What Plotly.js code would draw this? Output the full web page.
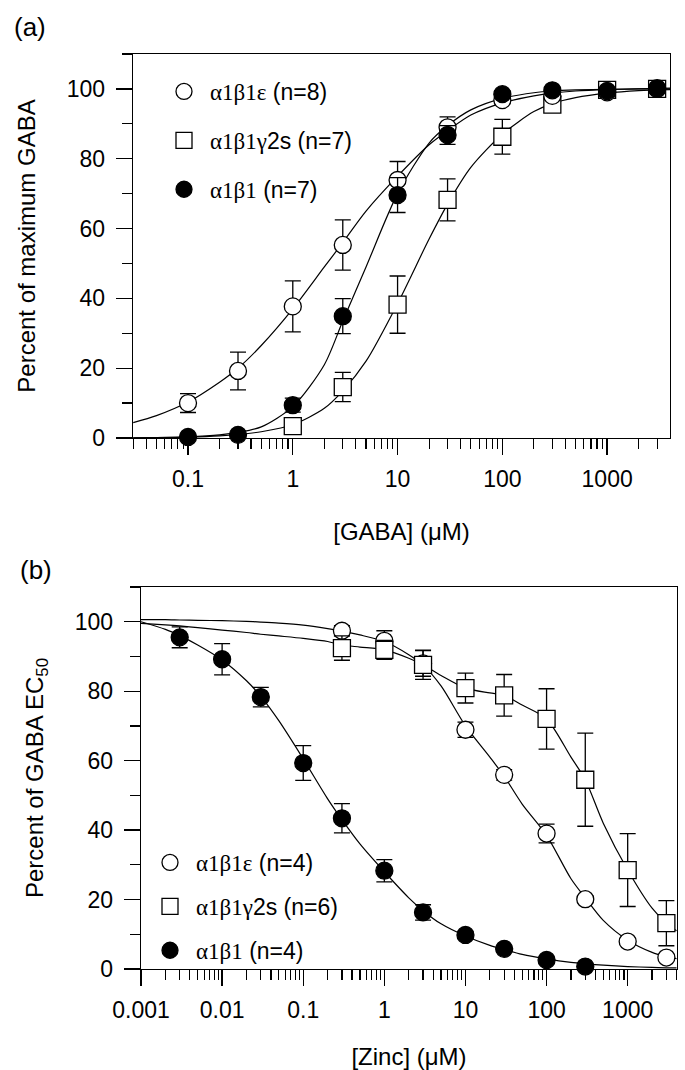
<!DOCTYPE html>
<html>
<head>
<meta charset="utf-8">
<script src="https://cdn.plot.ly/plotly-3.0.1.min.js"></script>
<style>html,body{margin:0;padding:0;background:#fff;}</style>
</head>
<body>
<div id="chart" style="width:685px;height:1070px;"></div>
<script>
// ---------- Panel (a): GABA concentration-response ----------
const gabaX = [0.1, 0.3, 1, 3, 10, 30, 100, 300, 1000, 3000];
const gabaEpsY = [10, 19.2, 37.7, 55.3, 73.9, 89, 96.8, 98, 99, 100];
const gabaEpsErr = [2.7, 5.4, 7.3, 7.2, 5.3, 3, 1, 0.8, 0.8, 0.5];
const gabaB1Y = [0.3, 0.9, 9.4, 34.9, 69.6, 86.8, 98.5, 99.6, 99.4, 100.2];
const gabaB1Err = [0.3, 0.5, 2, 5, 5, 2.7, 1, 0.5, 0.5, 0.3];
const gabaGamX = [1, 3, 10, 30, 100, 300, 1000, 3000];
const gabaGamY = [3.4, 14.6, 38.2, 68.2, 86.3, 95.5, 99.7, 100];
const gabaGamErr = [0.8, 4.2, 8.2, 6, 5, 1.5, 0.5, 0.5];

// fitted curves
const gabaCurveX = [0.03, 0.05, 0.1, 0.2, 0.3, 0.5, 1, 2, 3, 5, 10, 20, 30, 50, 100, 200, 300, 500, 1000, 2000, 4000];
const gabaEpsCurve = [4.4, 6.4, 10.3, 16, 20, 26.5, 37, 49, 56, 65, 75, 84, 88, 92.5, 96, 98, 98.8, 99.4, 99.8, 100, 100.2];
const gabaB1Curve = [0.05, 0.12, 0.35, 0.9, 1.6, 3.2, 9, 21, 33.5, 49, 70, 84.5, 89.5, 94, 97.3, 98.9, 99.4, 99.7, 99.9, 100, 100];
const gabaGamCurve = [0.05, 0.1, 0.25, 0.6, 1, 1.8, 3.8, 8.5, 13.5, 22, 38.5, 57, 67, 77.5, 87, 93.5, 95.8, 97.5, 98.8, 99.5, 99.8];

// ---------- Panel (b): Zinc inhibition ----------
const zincB1X = [0.003, 0.01, 0.03, 0.1, 0.3, 1, 3, 10, 30, 100, 300];
const zincB1Y = [95.5, 89.2, 78.3, 59.3, 43.4, 28.3, 16.3, 9.8, 5.8, 2.6, 0.7];
const zincB1Err = [3, 4.5, 2.8, 5, 4.2, 3.2, 2.2, 1, 0.8, 0.6, 0.4];
const zincX = [0.3, 1, 3, 10, 30, 100, 300, 1000, 3000];
const zincEpsY = [97.4, 94.5, 88, 68.9, 55.9, 39, 20.1, 7.9, 3.3];
const zincEpsErr = [1.5, 2.9, 3.7, 2.2, 1.5, 2.7, 1, 0.8, 0.5];
const zincGamY = [92.4, 91.9, 87.6, 80.9, 78.8, 72, 54.5, 28.5, 13.2];
const zincGamErr = [3.5, 2.7, 4.2, 4.3, 6, 8.7, 13.4, 10.5, 6.5];

const zincCurveX = [0.001, 0.002, 0.003, 0.005, 0.01, 0.02, 0.03, 0.05, 0.1, 0.2, 0.3, 0.5, 1, 2, 3, 5, 10, 20, 30, 50, 100, 200, 300, 500, 1000, 2000, 3000, 4000];
const zincB1Curve = [100, 97.8, 96, 93.3, 89, 83, 78.5, 71.5, 60.5, 49, 43, 36, 28, 20.5, 16.8, 13, 9.5, 6.8, 5.6, 4.2, 2.9, 1.9, 1.5, 1.1, 0.7, 0.45, 0.35, 0.3];
const zincEpsCurve = [100.6, 100.6, 100.5, 100.4, 100.3, 100.1, 99.9, 99.6, 99, 98, 97.3, 96.2, 94.3, 90.5, 87.5, 81.5, 70, 61, 55.5, 47.5, 38.5, 26, 20.5, 14, 8.3, 4.8, 3.6, 3];
const zincGamCurve = [99.5, 99.1, 98.8, 98.3, 97.6, 96.9, 96.4, 95.9, 95.2, 94.3, 93.3, 92.7, 91.9, 89.5, 87.6, 84.5, 80.9, 79.5, 78.8, 76, 72, 61, 54.5, 42, 28.5, 17.5, 13.2, 11];

// tick labels
const gabaTicks = [0.1, 1, 10, 100, 1000];
const gabaTickText = ['0.1', '1', '10', '100', '1000'];
const zincTicks = [0.001, 0.01, 0.1, 1, 10, 100, 1000];
const zincTickText = ['0.001', '0.01', '0.1', '1', '10', '100', '1000'];

const legA = ['α1β1ε', ' (n=8)', 'α1β1γ2s', ' (n=7)', 'α1β1', ' (n=7)'];
const legB = ['α1β1ε', ' (n=4)', 'α1β1γ2s', ' (n=6)', 'α1β1', ' (n=4)'];

function minorTicks(lo, hi) {
  const out = [];
  for (let d = -4; d <= 4; d++) {
    for (let k = 2; k <= 9; k++) {
      const v = k * Math.pow(10, d);
      if (v >= lo && v <= hi) out.push(v);
    }
  }
  return out;
}

function legText(greekPart, nPart) {
  // Greek letters set in serif, rest in sans, as in the original
  const m = greekPart.match(/^(α1β1[εγ]?)(.*)$/);
  let g = m ? m[1] : greekPart, rest = m ? m[2] : '';
  return '<span style="font-family:\'Liberation Serif\',serif">' + g + '</span>' + rest + nPart;
}

const K = 'black';
const SANS = 'Liberation Sans, Arial, sans-serif';
const MS = 17;

function curve(x, y, xa, ya) {
  return {x: x, y: y, xaxis: xa, yaxis: ya, mode: 'lines', type: 'scatter',
    line: {color: K, width: 1.2, shape: 'spline', smoothing: 0.8},
    showlegend: false, hoverinfo: 'skip'};
}
function pts(x, y, err, sym, fill, name, leg, rank, xa, ya) {
  return {x: x, y: y, xaxis: xa, yaxis: ya, mode: 'markers', type: 'scatter',
    name: name, legend: leg, legendgroup: leg + rank, legendrank: rank,
    cliponaxis: false,
    marker: {symbol: sym, size: MS, color: fill, line: {color: K, width: 1.3}},
    error_y: {type: 'data', array: err, visible: true, color: K, thickness: 1.3, width: 8}};
}

const traces = [
  curve(gabaCurveX, gabaGamCurve, 'x', 'y'),
  curve(gabaCurveX, gabaEpsCurve, 'x', 'y'),
  curve(gabaCurveX, gabaB1Curve, 'x', 'y'),
  pts(gabaGamX, gabaGamY, gabaGamErr, 'square', 'white', legText(legA[2], legA[3]), 'legend', 2, 'x', 'y'),
  pts(gabaX, gabaEpsY, gabaEpsErr, 'circle', 'white', legText(legA[0], legA[1]), 'legend', 1, 'x', 'y'),
  pts(gabaX, gabaB1Y, gabaB1Err, 'circle', K, legText(legA[4], legA[5]), 'legend', 3, 'x', 'y'),

  curve(zincCurveX, zincEpsCurve, 'x2', 'y2'),
  curve(zincCurveX, zincGamCurve, 'x2', 'y2'),
  curve(zincCurveX, zincB1Curve, 'x2', 'y2'),
  pts(zincX, zincEpsY, zincEpsErr, 'circle', 'white', legText(legB[0], legB[1]), 'legend2', 1, 'x2', 'y2'),
  pts(zincX, zincGamY, zincGamErr, 'square', 'white', legText(legB[2], legB[3]), 'legend2', 2, 'x2', 'y2'),
  pts(zincB1X, zincB1Y, zincB1Err, 'circle', K, legText(legB[4], legB[5]), 'legend2', 3, 'x2', 'y2')
];

const W = 685, H = 1070;
const tickFont = {family: SANS, size: 23, color: K};
const titleFont = {family: SANS, size: 24, color: K};

function xAxis(dom, range, tv, tt, minorLo, minorHi, anchor, title, standoff) {
  return {type: 'log', domain: dom, range: range, anchor: anchor,
    tickmode: 'array', tickvals: tv, ticktext: tt, ticks: 'outside', ticklen: 16, tickwidth: 1.3, tickcolor: K,
    minor: {ticks: 'outside', ticklen: 10, tickwidth: 1.2, tickcolor: K, tickmode: 'array', tickvals: minorTicks(minorLo, minorHi), showgrid: false},
    showline: true, linecolor: K, linewidth: 1.3, mirror: true, showgrid: false, zeroline: false,
    tickfont: tickFont, ticklabelstandoff: 4,
    title: {text: title, font: titleFont, standoff: standoff}};
}
function yAxis(dom, anchor, title) {
  return {domain: dom, range: [0, 110], anchor: anchor,
    tickmode: 'linear', tick0: 0, dtick: 20, ticks: 'outside', ticklen: 16, tickwidth: 1.3, tickcolor: K,
    minor: {ticks: 'outside', ticklen: 10, tickwidth: 1.2, tickcolor: K, dtick: 10, tick0: 0, showgrid: false},
    showline: true, linecolor: K, linewidth: 1.3, mirror: true, showgrid: false, zeroline: false,
    tickfont: tickFont, ticklabelstandoff: 6,
    title: {text: title, font: titleFont, standoff: 24}};
}

const layout = {
  width: W, height: H,
  margin: {l: 0, r: 0, t: 0, b: 0},
  paper_bgcolor: 'white', plot_bgcolor: 'white',
  font: {family: SANS, color: K},
  showlegend: true,
  xaxis: xAxis([133 / W, 670 / W], [-1.525, 3.60], gabaTicks, gabaTickText, 0.03, 4000, 'y', '[GABA] (μM)', 32),
  yaxis: yAxis([(H - 438) / H, (H - 54) / H], 'x', 'Percent of maximum GABA'),
  xaxis2: xAxis([141 / W, 677 / W], [-3, 3.608], zincTicks, zincTickText, 0.001, 4000, 'y2', '[Zinc] (μM)', 27),
  yaxis2: yAxis([(H - 969) / H, (H - 587) / H], 'x2', 'Percent of GABA EC<sub>50</sub>'),
  legend: {x: 158 / W, xanchor: 'left', y: (H - 70) / H, yanchor: 'top', bgcolor: 'rgba(0,0,0,0)',
    font: {family: SANS, size: 23, color: K}, tracegroupgap: 16, itemsizing: 'trace', itemwidth: 42},
  legend2: {x: 144 / W, xanchor: 'left', y: (H - 841) / H, yanchor: 'top', bgcolor: 'rgba(0,0,0,0)',
    font: {family: SANS, size: 23, color: K}, tracegroupgap: 11, itemsizing: 'trace', itemwidth: 42},
  annotations: [
    {text: '(a)', xref: 'paper', yref: 'paper', x: 30 / W, y: (H - 27) / H, showarrow: false,
      xanchor: 'center', yanchor: 'middle', font: {family: SANS, size: 26, color: K}},
    {text: '(b)', xref: 'paper', yref: 'paper', x: 36 / W, y: (H - 570) / H, showarrow: false,
      xanchor: 'center', yanchor: 'middle', font: {family: SANS, size: 26, color: K}}
  ]
};

Plotly.newPlot('chart', traces, layout, {displayModeBar: false, staticPlot: true});
</script>
</body>
</html>
